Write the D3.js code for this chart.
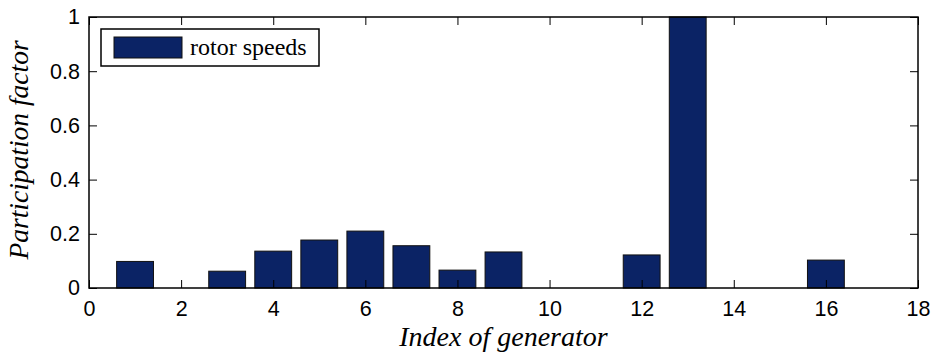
<!DOCTYPE html>
<html>
<head>
<meta charset="utf-8">
<script src="https://cdn.jsdelivr.net/npm/d3@7"></script>
<style>
  body { margin: 0; background: #fff; }
  svg text { fill: #000; }
</style>
</head>
<body>
<svg id="chart"></svg>
<script>
// generator index and participation factor of rotor speeds
const generators = [1, 3, 4, 5, 6, 7, 8, 9, 12, 13, 16];
const participation = [0.098, 0.062, 0.136, 0.177, 0.210, 0.156, 0.066, 0.133, 0.122, 1.0, 0.103];
const xTicks = [0, 2, 4, 6, 8, 10, 12, 14, 16, 18];
const yTicks = [0, 0.2, 0.4, 0.6, 0.8, 1];
const seriesName = "rotor speeds";

const svgWidth = 936, svgHeight = 356;
const margin = { top: 17, right: 18, bottom: 68, left: 89 };
const width = svgWidth - margin.left - margin.right;
const height = svgHeight - margin.top - margin.bottom;
const barColor = "#0b2365";
const serif = "'Liberation Serif', 'Times New Roman', serif";

const svg = d3.select("#chart").attr("width", svgWidth).attr("height", svgHeight);
const g = svg.append("g").attr("transform", "translate(" + margin.left + "," + margin.top + ")");

const x = d3.scaleLinear().domain([0, 18]).range([0, width]);
const y = d3.scaleLinear().domain([0, 1]).range([height, 0]);

// bars (width 0.8 like matlab's default)
const data = generators.map((d, i) => ({ gen: d, value: participation[i] }));
g.selectAll("rect.bar")
  .data(data)
  .enter()
  .append("rect")
  .attr("class", "bar")
  .attr("x", (d) => x(d.gen - 0.4))
  .attr("width", x(0.8) - x(0))
  .attr("y", (d) => y(d.value))
  .attr("height", (d) => y(0) - y(d.value))
  .attr("fill", barColor)
  .attr("stroke", "#111")
  .attr("stroke-width", 1);

// axes with inward ticks, labels on bottom/left only
const tickLen = 8;
const styleAxis = (sel) => {
  sel.select(".domain").remove();
  sel.selectAll("line").attr("stroke", "#000").attr("stroke-width", 1);
  sel.selectAll("text")
    .attr("font-family", "'Liberation Sans', Arial, sans-serif")
    .attr("font-size", 21.5);
};

g.append("g")
  .attr("transform", "translate(0," + height + ")")
  .call(d3.axisBottom(x).tickValues(xTicks).tickSizeInner(-tickLen).tickSizeOuter(0).tickPadding(13).tickFormat(d3.format("d")))
  .call(styleAxis);

g.append("g")
  .call(d3.axisTop(x).tickValues(xTicks).tickSizeInner(-tickLen).tickSizeOuter(0).tickFormat(""))
  .call(styleAxis);

g.append("g")
  .call(d3.axisLeft(y).tickValues(yTicks).tickSizeInner(-tickLen).tickSizeOuter(0).tickPadding(9).tickFormat((d) => d3.format("")(+d.toFixed(1))))
  .call(styleAxis);

g.append("g")
  .attr("transform", "translate(" + width + ",0)")
  .call(d3.axisRight(y).tickValues(yTicks).tickSizeInner(-tickLen).tickSizeOuter(0).tickFormat(""))
  .call(styleAxis);

// plot frame
g.append("rect")
  .attr("width", width)
  .attr("height", height)
  .attr("fill", "none")
  .attr("stroke", "#000")
  .attr("stroke-width", 1.5);

// axis titles
g.append("text")
  .attr("x", width / 2)
  .attr("y", height + 58)
  .attr("text-anchor", "middle")
  .attr("font-family", serif)
  .attr("font-style", "italic")
  .attr("font-size", 28)
  .text("Index of generator");

g.append("text")
  .attr("transform", "rotate(-90)")
  .attr("x", -133)
  .attr("y", -61)
  .attr("text-anchor", "middle")
  .attr("font-family", serif)
  .attr("font-style", "italic")
  .attr("font-size", 27.5)
  .text("Participation factor");

// legend
const legend = g.append("g").attr("transform", "translate(12,12)");
legend.append("rect")
  .attr("width", 218)
  .attr("height", 37)
  .attr("fill", "#fff")
  .attr("stroke", "#000")
  .attr("stroke-width", 1.5);
legend.append("rect")
  .attr("x", 13)
  .attr("y", 8)
  .attr("width", 68)
  .attr("height", 21)
  .attr("fill", barColor)
  .attr("stroke", "#111");
legend.append("text")
  .attr("x", 89)
  .attr("y", 26)
  .attr("font-family", serif)
  .attr("font-size", 24)
  .text(seriesName);
</script>
</body>
</html>
